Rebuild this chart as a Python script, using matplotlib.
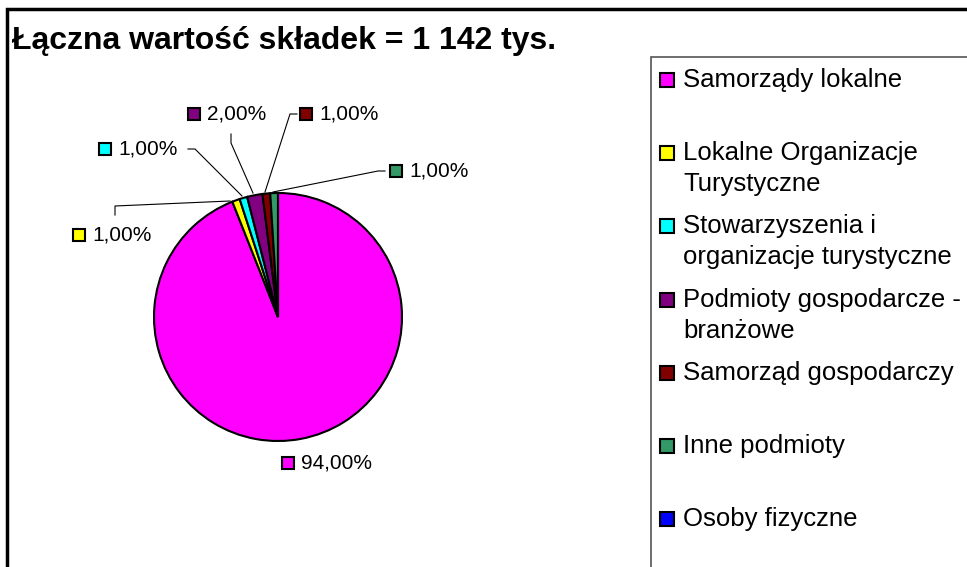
import numpy as np
import matplotlib
matplotlib.use('Agg')
import matplotlib.pyplot as plt
from matplotlib.patches import Rectangle

plt.rcParams['font.family'] = ['Liberation Sans', 'DejaVu Sans']

title = 'Łączna wartość składek = 1 142 tys.'
categories = ['Samorządy lokalne', 'Lokalne Organizacje\nTurystyczne',
              'Stowarzyszenia i\norganizacje turystyczne',
              'Podmioty gospodarcze -\nbranżowe', 'Samorząd gospodarczy',
              'Inne podmioty', 'Osoby fizyczne']
shares = [94, 1, 1, 2, 1, 1, 0]
colors = ['#FF00FF', '#FFFF00', '#00FFFF', '#800080', '#800000', '#339966', '#0000FF']

W, H = 967, 567

def fx(px):
	return px / W

def fy(py):
	return 1 - py / H

fig = plt.figure(figsize=(W / 100, H / 100), dpi=100)

# outer chart frame (right/bottom run off the image)
fig.patches.append(Rectangle((fx(7), fy(620)), fx(1100), (620 - 9) / H, transform=fig.transFigure,
	fill=False, edgecolor='black', linewidth=2.5))

fig.text(fx(12), fy(41), title, fontsize=23, fontweight='bold', va='center', ha='left')

# pie
cx, cy, r = 278, 317, 124
ax = fig.add_axes([fx(cx - r), fy(cy + r), 2 * r / W, 2 * r / H])
wedges, _ = ax.pie(shares, colors=colors, startangle=90, counterclock=False,
	wedgeprops=dict(edgecolor='black', linewidth=1.5))
ax.set_xlim(-1, 1)
ax.set_ylim(-1, 1)
ax.set_aspect('equal')
ax.axis('off')

# data labels: marker centre in pixels, leader points in pixels
label_pos = [(288, 463), (79, 235), (105, 149), (194, 114), (306, 114), (396, 171)]
leaders = [None,
	[(115, 215), (115, 206), (230, 201)],
	[(188, 149), (195, 149), (242, 196)],
	[(231, 134), (231, 143), (253, 193)],
	[(297, 114), (290, 114), (265, 192)],
	[(385, 171), (378, 171), (273, 192)]]

for i, s in enumerate(shares):
	if s == 0:
		continue
	mx, my = label_pos[i]
	fig.patches.append(Rectangle((fx(mx - 6), fy(my + 6)), 12 / W, 12 / H, transform=fig.transFigure,
		facecolor=colors[i], edgecolor='black', linewidth=1.5))
	fig.text(fx(mx + 13), fy(my), ('%.2f' % s).replace('.', ',') + '%',
		fontsize=15, va='center', ha='left')
	if leaders[i] is not None:
		pts = np.array(leaders[i], dtype=float)
		fig.lines.append(plt.Line2D(fx(pts[:, 0]), fy(pts[:, 1]), transform=fig.transFigure,
			color='black', linewidth=0.8))

# legend box
fig.patches.append(Rectangle((fx(651), fy(620)), fx(400), (620 - 57) / H, transform=fig.transFigure,
	fill=False, edgecolor='#555555', linewidth=1.2))
for i, name in enumerate(categories):
	y0 = 80 + i * 73.2
	fig.patches.append(Rectangle((fx(660), fy(y0 + 7)), 14 / W, 14 / H, transform=fig.transFigure,
		facecolor=colors[i], edgecolor='black', linewidth=1.5))
	for j, line in enumerate(name.split('\n')):
		fig.text(fx(683), fy(y0 + j * 31), line, fontsize=18.5, va='center', ha='left')

fig.savefig('out.png', dpi=100)
